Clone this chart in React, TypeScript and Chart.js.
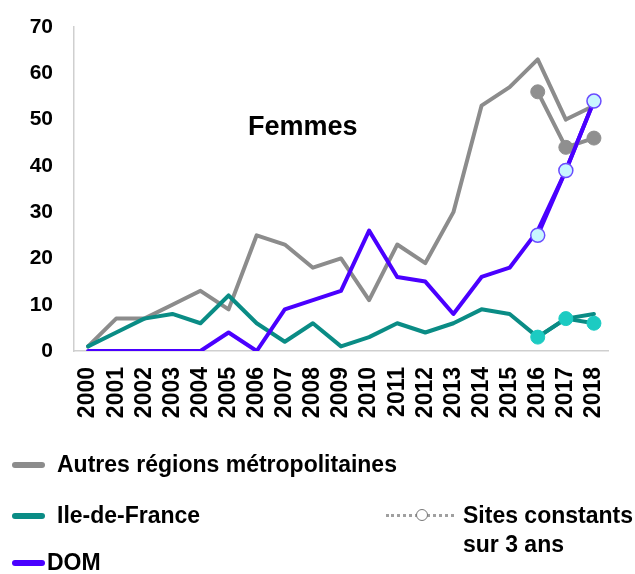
import React, { useEffect, useRef } from 'react';
import { Chart, registerables } from 'chart.js';

Chart.register(...registerables);

const years = ['2000', '2001', '2002', '2003', '2004', '2005', '2006', '2007', '2008', '2009', '2010', '2011', '2012', '2013', '2014', '2015', '2016', '2017', '2018'];
const autres = [1, 7, 7, 10, 13, 9, 25, 23, 18, 20, 11, 23, 19, 30, 53, 57, 63, 50, 53];
const idf = [1, 4, 7, 8, 6, 12, 6, 2, 6, 1, 3, 6, 4, 6, 9, 8, 3, 7, 8];
const dom = [0, 0, 0, 0, 0, 4, 0, 9, 11, 13, 26, 16, 15, 8, 16, 18, 26, 39, 54];
const N = null;
const autresConst = [N, N, N, N, N, N, N, N, N, N, N, N, N, N, N, N, 56, 44, 46];
const idfConst = [N, N, N, N, N, N, N, N, N, N, N, N, N, N, N, N, 3, 7, 6];
const domConst = [N, N, N, N, N, N, N, N, N, N, N, N, N, N, N, N, 25, 39, 54];
const yTicks = [0, 10, 20, 30, 40, 50, 60, 70];

const FONT = '"Liberation Sans", Arial, Helvetica, sans-serif';
const GRAY = '#8c8c8c';
const TEAL = '#0a8c85';
const PURPLE = '#4a00ff';

export default function App() {
  const ref = useRef<HTMLCanvasElement | null>(null);

  useEffect(() => {
    if (!ref.current) return;
    const lineBase = {
      borderWidth: 4,
      pointRadius: 0,
      borderJoinStyle: 'round' as const,
      borderCapStyle: 'round' as const,
      tension: 0,
    };
    const chart = new Chart(ref.current, {
      type: 'line',
      data: {
        labels: years,
        datasets: [
          {
            ...lineBase,
            label: 'DOM constants',
            data: domConst,
            borderColor: PURPLE,
            pointRadius: 7,
            pointBackgroundColor: '#c8f6ff',
            pointBorderColor: '#6a4cff',
            pointBorderWidth: 1.5,
          },
          {
            ...lineBase,
            label: 'IdF constants',
            data: idfConst,
            borderColor: TEAL,
            pointRadius: 7,
            pointBackgroundColor: '#1ccbc2',
            pointBorderColor: '#1ccbc2',
            pointBorderWidth: 1,
          },
          {
            ...lineBase,
            label: 'Autres constants',
            data: autresConst,
            borderColor: GRAY,
            pointRadius: 7,
            pointBackgroundColor: '#8f8f8f',
            pointBorderColor: '#8f8f8f',
            pointBorderWidth: 1,
          },
          { ...lineBase, label: 'DOM', data: dom, borderColor: PURPLE },
          { ...lineBase, label: 'Ile-de-France', data: idf, borderColor: TEAL },
          { ...lineBase, label: 'Autres régions métropolitaines', data: autres, borderColor: GRAY },
        ],
      },
      options: {
        animation: false,
        responsive: true,
        maintainAspectRatio: false,
        layout: { padding: { top: 27, right: 27, left: 0, bottom: 0 } },
        plugins: { legend: { display: false }, tooltip: { enabled: false }, title: { display: false } },
        scales: {
          x: {
            type: 'category',
            offset: true,
            grid: { display: false, drawTicks: false },
            border: { display: true, color: '#cfcfcf', width: 1.5 },
            ticks: {
              autoSkip: false,
              maxRotation: 90,
              minRotation: 90,
              padding: 16,
              color: '#000',
              font: { family: FONT, size: 23, weight: 'bold' },
            },
            afterFit: (s: any) => {
              s.height = 223;
              s.paddingLeft = 0;
              s.paddingRight = 0;
            },
          },
          y: {
            min: 0,
            max: 70,
            grid: { display: false, drawTicks: false },
            border: { display: true, color: '#cfcfcf', width: 1.5 },
            afterBuildTicks: (s: any) => {
              s.ticks = yTicks.map((v) => ({ value: v }));
            },
            ticks: {
              padding: 21,
              color: '#000',
              font: { family: FONT, size: 21, weight: 'bold' },
            },
            afterFit: (s: any) => {
              s.width = 74;
              s.paddingTop = 0;
              s.paddingBottom = 0;
            },
          },
        },
      },
    });
    return () => chart.destroy();
  }, []);

  const legendText: React.CSSProperties = {
    position: 'absolute',
    fontFamily: FONT,
    fontWeight: 'bold',
    fontSize: 23,
    lineHeight: '23px',
    color: '#000',
    whiteSpace: 'nowrap',
  };
  const swatch = (color: string, top: number): React.CSSProperties => ({
    position: 'absolute',
    left: 12,
    width: 33,
    top: top - 3,
    height: 6,
    borderRadius: 3,
    background: color,
  });

  return (
    <div style={{ position: 'absolute', left: 0, top: 0, width: 635, height: 574, background: '#fff', overflow: 'hidden' }}>
      <canvas ref={ref} />
      <div style={{ ...legendText, left: 248, top: 113, fontSize: 27, lineHeight: '27px' }}>Femmes</div>

      <div style={swatch(GRAY, 465)} />
      <div style={{ ...legendText, left: 57, top: 465 - 12 }}>Autres régions métropolitaines</div>

      <div style={swatch(TEAL, 516)} />
      <div style={{ ...legendText, left: 57, top: 516 - 12 }}>Ile-de-France</div>

      <div style={swatch(PURPLE, 563)} />
      <div style={{ ...legendText, left: 47, top: 563 - 12 }}>DOM</div>

      <div style={{ position: 'absolute', left: 386, top: 514, width: 68, height: 0, borderTop: '3px dotted #a0a0a0' }} />
      <div
        style={{
          position: 'absolute',
          left: 416,
          top: 509,
          width: 10,
          height: 10,
          borderRadius: '50%',
          border: '1.5px solid #777',
          background: '#fff',
        }}
      />
      <div style={{ ...legendText, left: 463, top: 516 - 12 }}>Sites constants</div>
      <div style={{ ...legendText, left: 463, top: 545 - 12 }}>sur 3 ans</div>
    </div>
  );
}
